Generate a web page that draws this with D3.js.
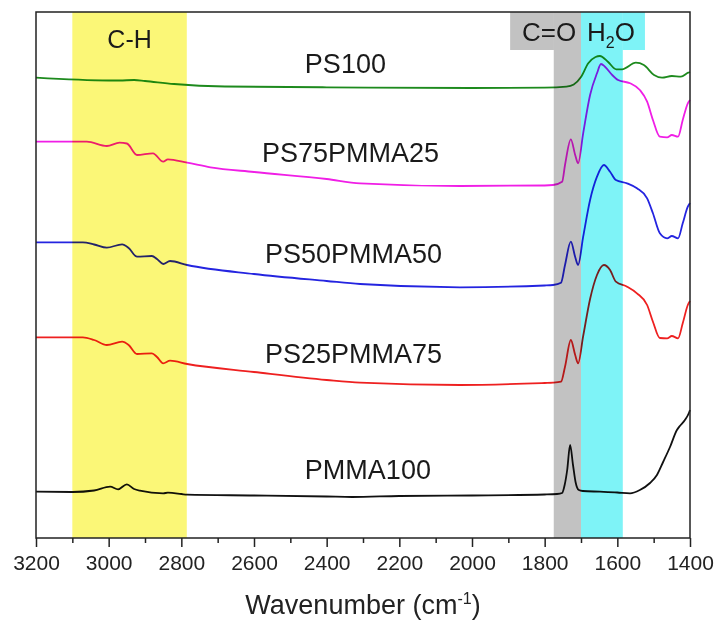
<!DOCTYPE html>
<html>
<head>
<meta charset="utf-8">
<script src="https://cdn.jsdelivr.net/npm/d3@7/dist/d3.min.js"></script>
<style>
  html, body { margin: 0; padding: 0; background: #fff; }
  svg { display: block; font-family: "Liberation Sans", Arial, sans-serif; }
</style>
</head>
<body>
<svg id="chart" width="718" height="624"></svg>
<script>
// FTIR spectra of PS / PMMA blends: [wavenumber (cm-1), absorbance (a.u., offset)]
const pmma100 = [
  [3200, 0.926], [3100, 0.92], [3040, 0.95], [2996, 1.026], [2974, 0.974], [2950, 1.074],
  [2930, 0.98], [2914, 0.946], [2850, 0.894], [2837, 0.906], [2800, 0.88], [2784, 0.866],
  [2600, 0.85], [2400, 0.83], [2330, 0.82], [2200, 0.84], [2000, 0.85], [1800, 0.87],
  [1766, 0.88], [1752, 0.90], [1745, 1.06], [1738, 1.36], [1730, 1.86], [1722, 1.46],
  [1715, 1.12], [1706, 0.96], [1695, 0.94], [1648, 0.926], [1600, 0.91], [1565, 0.894],
  [1538, 0.96], [1510, 1.10], [1491, 1.26], [1474, 1.52], [1455, 1.82], [1436, 2.16],
  [1428, 2.24], [1414, 2.36], [1403, 2.50], [1400, 2.56]
];
const ps25pmma75 = [
  [3200, 4.014], [3071, 4.014], [3040, 3.96], [3005, 3.86], [2963, 3.926], [2945, 3.86],
  [2922, 3.68], [2881, 3.694], [2867, 3.62], [2850, 3.494], [2831, 3.546], [2784, 3.48],
  [2600, 3.32], [2400, 3.16], [2308, 3.106], [2033, 3.06], [1800, 3.10], [1777, 3.106],
  [1755, 3.126], [1744, 3.426], [1728, 3.96], [1716, 3.66], [1708, 3.494], [1694, 4.04],
  [1675, 4.78], [1656, 5.26], [1637, 5.46], [1620, 5.36], [1604, 5.126], [1573, 5.026],
  [1546, 4.894], [1518, 4.66], [1502, 4.326], [1483, 4.0], [1463, 3.994], [1450, 4.04],
  [1433, 3.994], [1420, 4.294], [1406, 4.66], [1400, 4.74]
];
const ps50pmma50 = [
  [3200, 5.914], [3071, 5.914], [3040, 5.87], [3005, 5.806], [2963, 5.874], [2945, 5.80],
  [2922, 5.626], [2881, 5.64], [2867, 5.58], [2850, 5.48], [2831, 5.54], [2784, 5.46],
  [2600, 5.28], [2400, 5.14], [2308, 5.08], [2033, 5.014], [1800, 5.05], [1777, 5.06],
  [1755, 5.106], [1744, 5.46], [1728, 5.926], [1716, 5.62], [1708, 5.46], [1694, 6.026],
  [1675, 6.76], [1656, 7.226], [1637, 7.46], [1620, 7.326], [1604, 7.16], [1573, 7.094],
  [1546, 6.994], [1518, 6.794], [1502, 6.494], [1483, 6.094], [1463, 5.994], [1450, 6.04],
  [1433, 5.994], [1420, 6.294], [1406, 6.626], [1400, 6.70]
];
const ps75pmma25 = [
  [3200, 7.926], [3060, 7.926], [3005, 7.84], [2970, 7.906], [2950, 7.89], [2922, 7.66],
  [2878, 7.694], [2850, 7.526], [2837, 7.574], [2784, 7.506], [2720, 7.414], [2600, 7.32],
  [2400, 7.18], [2308, 7.094], [2033, 7.04], [1800, 7.05], [1777, 7.06], [1752, 7.126],
  [1744, 7.46], [1728, 7.974], [1716, 7.66], [1708, 7.494], [1694, 8.094], [1675, 8.86],
  [1656, 9.294], [1645, 9.48], [1634, 9.426], [1615, 9.266], [1598, 9.16], [1565, 9.094],
  [1538, 8.96], [1518, 8.726], [1502, 8.36], [1483, 8.026], [1463, 8.014], [1450, 8.06],
  [1433, 8.026], [1420, 8.36], [1406, 8.694], [1400, 8.76]
];
const ps100 = [
  [3200, 9.206], [3000, 9.15], [2970, 9.15], [2930, 9.16], [2900, 9.14], [2820, 9.08],
  [2680, 9.03], [2400, 9.014], [2000, 9.0], [1800, 9.006], [1740, 9.026], [1720, 9.07],
  [1700, 9.22], [1680, 9.494], [1660, 9.62], [1648, 9.64], [1626, 9.526], [1603, 9.374],
  [1587, 9.374], [1549, 9.506], [1527, 9.46], [1499, 9.26], [1477, 9.206], [1450, 9.24],
  [1425, 9.226], [1405, 9.306], [1400, 9.32]
];

const seriesNames = ["PMMA100", "PS25PMMA75", "PS50PMMA50", "PS75PMMA25", "PS100"];
const seriesData = [pmma100, ps25pmma75, ps50pmma50, ps75pmma25, ps100];
// label anchors in data units: [wavenumber, absorbance]
const labelAnchors = [[2460, 1.18], [2570, 3.506], [2570, 5.494], [2578, 7.526], [2460, 9.294]];

// highlighted absorption regions [from, to] in cm-1
const bandNames = ["C-H", "C=O", "H2O"];
const bandRanges = [[3100, 2785], [1775, 1700], [1700, 1585]];
// extra caption area beside the C=O and H2O bands, at the top of the plot
const captionBoxes = [[1895, 1775], [1585, 1524]];

const majorTicks = [3200, 3000, 2800, 2600, 2400, 2200, 2000, 1800, 1600, 1400];
const minorTicks = [3100, 2900, 2700, 2500, 2300, 2100, 1900, 1700, 1500];

const colors = ["#111111", "#ee2020", "#2424e0", "#f01ee6", "#1d8a1d"];
const bandColors = ["#fbf777", "#c2c2c2", "#7ef3f7"];

const W = 718, H = 624;
const m = { left: 36, right: 28, top: 12, bottom: 86 };
const x0 = m.left, x1 = W - m.right, y0 = m.top, y1 = H - m.bottom;

const x = d3.scaleLinear().domain([3200, 1400]).range([x0, x1]);
const y = d3.scaleLinear().domain([0, 10.52]).range([y1, y0]);

const svg = d3.select("#chart");

// spectra
const line = d3.line()
  .x(d => x(d[0]))
  .y(d => y(d[1]))
  .curve(d3.curveMonotoneX);

svg.append("g").selectAll("path")
  .data(seriesData)
  .join("path")
  .attr("d", line)
  .attr("fill", "none")
  .attr("stroke", (d, i) => colors[i])
  .attr("stroke-width", 1.8)
  .attr("stroke-linejoin", "round");

// shaded regions, multiplied over the spectra
const bands = svg.append("g");
bands.selectAll("rect.band")
  .data(bandRanges)
  .join("rect")
  .attr("class", "band")
  .attr("x", d => x(d[0]))
  .attr("width", d => x(d[1]) - x(d[0]))
  .attr("y", y0)
  .attr("height", y1 - y0)
  .attr("fill", (d, i) => bandColors[i])
  .style("mix-blend-mode", "multiply");

const boxBottom = 9.76;
bands.selectAll("rect.cap")
  .data(captionBoxes)
  .join("rect")
  .attr("class", "cap")
  .attr("x", d => x(d[0]))
  .attr("width", d => x(d[1]) - x(d[0]))
  .attr("y", y0)
  .attr("height", y(boxBottom) - y0)
  .attr("fill", (d, i) => bandColors[i + 1])
  .style("mix-blend-mode", "multiply");

// series labels
svg.append("g").selectAll("text")
  .data(seriesNames)
  .join("text")
  .attr("x", (d, i) => x(labelAnchors[i][0]))
  .attr("y", (d, i) => y(labelAnchors[i][1]))
  .attr("font-size", 27)
  .attr("fill", "#1a1a1a")
  .text(d => d);

// band captions
svg.append("text")
  .attr("x", x((bandRanges[0][0] + bandRanges[0][1]) / 2))
  .attr("y", 47.5)
  .attr("text-anchor", "middle")
  .attr("font-size", 25)
  .attr("fill", "#1a1a1a")
  .text(bandNames[0]);

svg.append("text")
  .attr("x", 522)
  .attr("y", 40.5)
  .attr("font-size", 26)
  .attr("fill", "#1a1a1a")
  .text(bandNames[1]);

const h2o = svg.append("text")
  .attr("x", 587)
  .attr("y", 40.5)
  .attr("font-size", 26)
  .attr("fill", "#1a1a1a");
h2o.append("tspan").text("H");
h2o.append("tspan").attr("dy", 7).attr("font-size", 16).text("2");
h2o.append("tspan").attr("dy", -7).text("O");

// bottom axis
const axisMajor = svg.append("g")
  .attr("transform", `translate(0,${y1})`)
  .call(d3.axisBottom(x).tickValues(majorTicks).tickSize(9).tickPadding(8).tickFormat(d3.format("d")));
axisMajor.select(".domain").remove();
axisMajor.selectAll("line").attr("stroke", "#222").attr("stroke-width", 1.5);
axisMajor.selectAll("text")
  .attr("font-size", 21)
  .attr("font-family", "'Liberation Sans', Arial, sans-serif")
  .attr("fill", "#222");

const axisMinor = svg.append("g")
  .attr("transform", `translate(0,${y1})`)
  .call(d3.axisBottom(x).tickValues(minorTicks).tickSize(5).tickFormat(""));
axisMinor.select(".domain").remove();
axisMinor.selectAll("line").attr("stroke", "#222").attr("stroke-width", 1.5);

// frame
svg.append("rect")
  .attr("x", x0).attr("y", y0)
  .attr("width", x1 - x0).attr("height", y1 - y0)
  .attr("fill", "none")
  .attr("stroke", "#222")
  .attr("stroke-width", 1.5);

// axis title
const title = svg.append("text")
  .attr("x", (x0 + x1) / 2)
  .attr("y", 614)
  .attr("text-anchor", "middle")
  .attr("font-size", 27)
  .attr("fill", "#222");
title.append("tspan").text("Wavenumber (cm");
title.append("tspan").attr("dy", -10).attr("font-size", 16).text("-1");
title.append("tspan").attr("dy", 10).text(")");
</script>
</body>
</html>
